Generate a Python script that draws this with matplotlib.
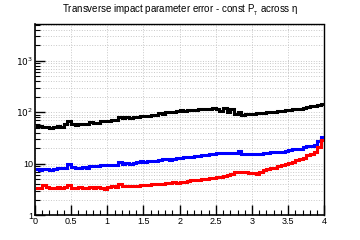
import numpy as np
import matplotlib
matplotlib.use("Agg")
import matplotlib.pyplot as plt
from matplotlib.ticker import FixedLocator, NullFormatter, MultipleLocator

plt.rcParams['font.family'] = ['Liberation Sans', 'DejaVu Sans']

# bin edges in eta (80 bins of 0.05)
eta_edges = np.linspace(0.0, 4.0, 81)
eta = 0.5 * (eta_edges[:-1] + eta_edges[1:])

err_black = [54, 53, 51, 52, 50, 52, 53, 52, 60, 69,
             58, 57, 59, 58, 60, 65, 62, 63, 67, 68,
             66, 70, 72, 80, 76, 79, 78, 82, 80, 84,
             86, 85, 90, 88, 95, 93, 99, 101, 102, 106,
             109, 107, 110, 112, 111, 115, 113, 118, 114, 120,
             117, 108, 122, 100, 115, 92, 100, 88, 93, 94,
             92, 95, 96, 97, 99, 100, 101, 104, 106, 109,
             111, 113, 116, 118, 122, 126, 130, 134, 140, 146]

err_blue = [7.8, 7.6, 7.7, 7.9, 7.5, 7.8, 8.2, 8.4, 8.3, 9.8,
            8.6, 8.4, 8.3, 8.5, 8.4, 8.9, 8.8, 9.0, 9.2, 9.4,
            9.3, 9.6, 9.5, 10.8, 10.0, 10.2, 10.0, 10.4, 10.9, 11.2,
            11.0, 11.3, 11.1, 11.4, 11.9, 12.1, 12.3, 12.0, 12.4, 12.6,
            12.9, 13.3, 13.6, 13.4, 13.8, 14.2, 14.6, 14.8, 15.1, 15.3,
            15.8, 16.0, 16.4, 16.2, 16.3, 15.9, 17.4, 15.5, 15.4, 15.6,
            15.5, 15.7, 15.6, 15.8, 16.2, 16.5, 16.7, 16.9, 17.2, 17.8,
            18.6, 19.0, 19.2, 19.6, 21.0, 21.8, 22.5, 23.5, 27.0, 33.0]

err_red = [3.3, 3.3, 3.8, 3.5, 3.4, 3.4, 3.5, 3.4, 3.5, 3.9,
           3.4, 3.4, 3.5, 3.4, 3.4, 3.5, 3.4, 3.5, 3.3, 3.15,
           3.5, 3.6, 3.5, 4.0, 3.7, 3.7, 3.7, 3.6, 3.7, 3.8,
           3.8, 3.9, 3.95, 4.0, 4.1, 4.05, 4.2, 4.25, 4.3, 4.2,
           4.35, 4.3, 4.6, 4.8, 4.75, 4.9, 5.0, 5.1, 5.2, 5.15,
           5.4, 5.5, 5.7, 6.0, 6.3, 6.8, 7.0, 6.9, 6.8, 6.7,
           6.5, 6.4, 6.9, 7.4, 7.9, 8.1, 8.3, 9.0, 9.6, 10.0,
           10.3, 11.0, 11.8, 12.2, 13.0, 14.5, 15.5, 16.5, 21.0, 29.0]

x_ticks = [0, 0.5, 1, 1.5, 2, 2.5, 3, 3.5, 4]
x_labels = ["0", "0.5", "1", "1.5", "2", "2.5", "3", "3.5", "4"]
y_ticks = [1, 10, 100, 1000]
y_labels = ["1", "10", "$10^{2}$", "$10^{3}$"]

fig = plt.figure(figsize=(3.6, 2.4), dpi=100)
ax = fig.add_axes([0.097, 0.104, 0.804, 0.796])

for vals, col in [(err_black, 'black'), (err_blue, 'blue'), (err_red, 'red')]:
    ax.plot(eta, vals, color=col, lw=2.2, drawstyle='steps-mid',
            solid_joinstyle='miter', zorder=3)

ax.set_yscale('log')
ax.set_xlim(0, 4)
ax.set_ylim(1, 5200)

ax.xaxis.set_major_locator(FixedLocator(x_ticks))
ax.xaxis.set_minor_locator(MultipleLocator(0.1))
ax.set_xticklabels(x_labels)
ax.yaxis.set_major_locator(FixedLocator(y_ticks))
ax.set_yticklabels(y_labels)
ax.yaxis.set_minor_locator(matplotlib.ticker.LogLocator(base=10, subs=np.arange(2, 10)))
ax.yaxis.set_minor_formatter(NullFormatter())

ax.tick_params(which='both', direction='in', top=False, right=False,
               labelsize=6.5, pad=1.5, colors='black')
ax.tick_params(which='major', length=7, width=1.0)
ax.tick_params(which='minor', length=3.5, width=0.8)

ax.grid(True, which='major', axis='x', color='#c8c8c8', ls=':', lw=0.7)
ax.grid(True, which='both', axis='y', color='#c8c8c8', ls=':', lw=0.7)

for s in ['left', 'bottom']:
    ax.spines[s].set_linewidth(1.2)
for s in ['top', 'right']:
    ax.spines[s].set_linestyle((0, (2, 1)))
    ax.spines[s].set_linewidth(1.0)

fig.text(0.5, 0.955, "Transverse impact parameter error - const P$_{_{\\rm T}}$ across \u03b7",
         ha='center', va='center', fontsize=7)

fig.savefig("out.png", dpi=100)
